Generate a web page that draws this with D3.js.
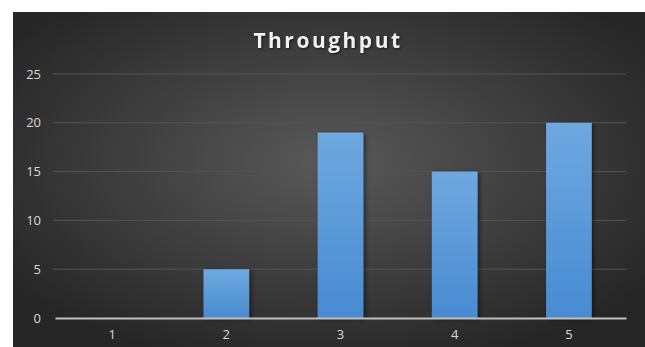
<!DOCTYPE html>
<html>
<head>
<meta charset="utf-8">
<script src="https://cdn.jsdelivr.net/npm/d3@7"></script>
<style>
    body { margin: 0; background: #fff; }
    svg { display: block; }
    .tick text { font-family: "Open Sans", sans-serif; font-size: 13px; fill: #d9d9d9; }
</style>
</head>
<body>
<div id="chart"></div>
<script>
var categories = ["1", "2", "3", "4", "5"];
var values = [0, 5, 19, 15, 20];
var yTicks = [0, 5, 10, 15, 20, 25];
var title = "Throughput";

var svg = d3.select("#chart")
        .append("svg")
        .attr("width", 645)
        .attr("height", 347),
    margin = {top: 74, right: 19, bottom: 29, left: 55},
    width = 645 - margin.left - margin.right,
    height = 347 - margin.top - margin.bottom;

var defs = svg.append("defs");

var bg = defs.append("radialGradient")
    .attr("id", "bg")
    .attr("cx", "50%").attr("cy", "45%").attr("r", "62%");
bg.append("stop").attr("offset", "0%").attr("stop-color", "#595959");
bg.append("stop").attr("offset", "100%").attr("stop-color", "#262626");

var barGrad = defs.append("linearGradient")
    .attr("id", "bar")
    .attr("x1", 0).attr("y1", 0).attr("x2", 0).attr("y2", 1);
barGrad.append("stop").attr("offset", "0%").attr("stop-color", "#6fa8e0");
barGrad.append("stop").attr("offset", "100%").attr("stop-color", "#478bd1");

var shadow = defs.append("filter").attr("id", "shadow")
    .attr("x", "-20%").attr("y", "-10%").attr("width", "150%").attr("height", "130%");
shadow.append("feDropShadow")
    .attr("dx", 2).attr("dy", 1).attr("stdDeviation", 2)
    .attr("flood-color", "#000").attr("flood-opacity", 0.5);

// background panel
svg.append("rect")
    .attr("x", 13).attr("y", 12)
    .attr("width", 632).attr("height", 335)
    .attr("fill", "url(#bg)");

svg.append("text")
    .attr("x", 328)
    .attr("y", 48)
    .attr("text-anchor", "middle")
    .attr("font-family", "'Open Sans', sans-serif")
    .attr("font-weight", "bold")
    .attr("font-size", 21)
    .attr("letter-spacing", 2.5)
    .attr("fill", "#f2f2f2")
    .style("filter", "drop-shadow(1px 1px 1px rgba(0,0,0,0.6))")
    .text(title);

var g = svg.append("g").attr("transform", "translate(" + margin.left + "," + margin.top + ")");

var x = d3.scaleBand()
    .domain(categories)
    .range([0, width])
    .paddingInner(0.6)
    .paddingOuter(0.3);

var y = d3.scaleLinear()
    .domain([0, 25])
    .range([height, 0]);

// gridlines
g.append("g")
    .selectAll("line")
    .data(yTicks.slice(1))
    .enter()
    .append("line")
    .attr("x1", -2).attr("x2", width)
    .attr("y1", function(d) { return y(d); })
    .attr("y2", function(d) { return y(d); })
    .attr("stroke", "#545454")
    .attr("stroke-width", 1);

// y axis labels only
var yAxis = g.append("g")
    .call(d3.axisLeft(y).tickValues(yTicks).tickSize(0).tickPadding(14));
yAxis.select(".domain").remove();

// bars
g.selectAll(".bar")
    .data(values)
    .enter()
    .append("rect")
    .attr("class", "bar")
    .attr("x", function(d, i) { return x(categories[i]); })
    .attr("y", function(d) { return y(d); })
    .attr("width", x.bandwidth())
    .attr("height", function(d) { return height - y(d); })
    .attr("fill", "url(#bar)")
    .attr("filter", "url(#shadow)");

// x axis
var xAxis = g.append("g")
    .attr("transform", "translate(0," + height + ")")
    .call(d3.axisBottom(x).tickSize(0).tickPadding(12));
xAxis.select(".domain")
    .attr("stroke", "#bfbfbf")
    .attr("stroke-width", 2);
</script>
</body>
</html>
